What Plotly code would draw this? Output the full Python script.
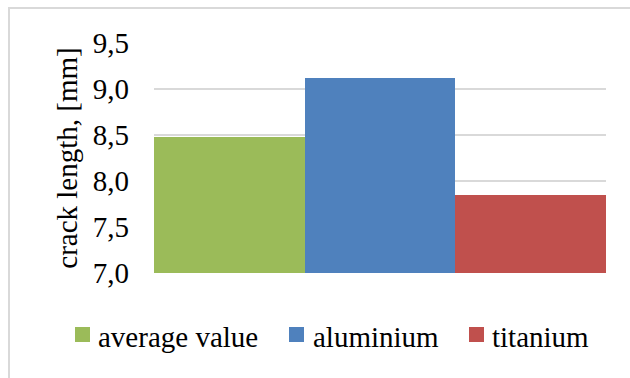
import plotly.graph_objects as go

# Crack length measurements, one bar per series
series_names = ["average value", "aluminium", "titanium"]
crack_length = [8.48, 9.12, 7.85]
series_colors = ["#9BBB59", "#4F81BD", "#C0504D"]

y_ticks = [7.0, 7.5, 8.0, 8.5, 9.0, 9.5]
y_tick_labels = ["7,0", "7,5", "8,0", "8,5", "9,0", "9,5"]

FONT = '"Times New Roman", Times, "Liberation Serif", "DejaVu Serif", serif'
FS = 29

# Plot-area geometry in pixels (used to place the hand-drawn legend)
W, H = 630, 378
ML, MR, MT, MB = 154, 24, 43, 105
PW, PH = W - ML - MR, H - MT - MB


def px_x(px):
    return (px - ML) / PW


def px_y(py):
    return (H - MB - py) / PH


fig = go.Figure()
for name, value, color in zip(series_names, crack_length, series_colors):
    fig.add_trace(go.Bar(
        x=["crack"], y=[value], name=name,
        marker=dict(color=color, line=dict(width=0)),
        showlegend=False,
    ))

# Legend: coloured squares with labels, laid out in one row under the plot
legend_square_left = [75, 289, 469]
legend_text_left = [96, 311, 490]
shapes = [dict(
    type="rect", xref="paper", yref="paper",
    x0=px_x(9), x1=1.2, y0=-0.6, y1=px_y(8),
    line=dict(color="#D9D9D9", width=2), fillcolor="rgba(0,0,0,0)",
    layer="below",
)]
annotations = []
for name, color, sx, tx in zip(series_names, series_colors,
                               legend_square_left, legend_text_left):
    shapes.append(dict(
        type="rect", xref="paper", yref="paper",
        x0=px_x(sx), x1=px_x(sx + 15), y0=px_y(342), y1=px_y(327),
        line=dict(width=0), fillcolor=color,
    ))
    annotations.append(dict(
        text=name, xref="paper", yref="paper",
        x=px_x(tx), y=px_y(337), xanchor="left", yanchor="middle",
        showarrow=False, font=dict(family=FONT, size=FS, color="black"),
    ))

fig.update_layout(
    width=W, height=H,
    margin=dict(l=ML, r=MR, t=MT, b=MB, autoexpand=False),
    paper_bgcolor="white", plot_bgcolor="white",
    barmode="group", bargap=0, bargroupgap=0,
    font=dict(family=FONT, size=FS, color="black"),
    xaxis=dict(showticklabels=False, showgrid=False, zeroline=False,
               showline=False, ticks=""),
    yaxis=dict(
        range=[7.0, 9.5], tickvals=y_ticks, ticktext=y_tick_labels,
        showgrid=True, gridcolor="#D9D9D9", gridwidth=2,
        zeroline=False, showline=False, ticks="",
        ticklabelstandoff=24,
        tickfont=dict(family=FONT, size=FS, color="black"),
        title=dict(text="crack length, [mm]", standoff=6,
                   font=dict(family=FONT, size=FS, color="black")),
    ),
    shapes=shapes,
    annotations=annotations,
)

fig.write_html("out.html")
